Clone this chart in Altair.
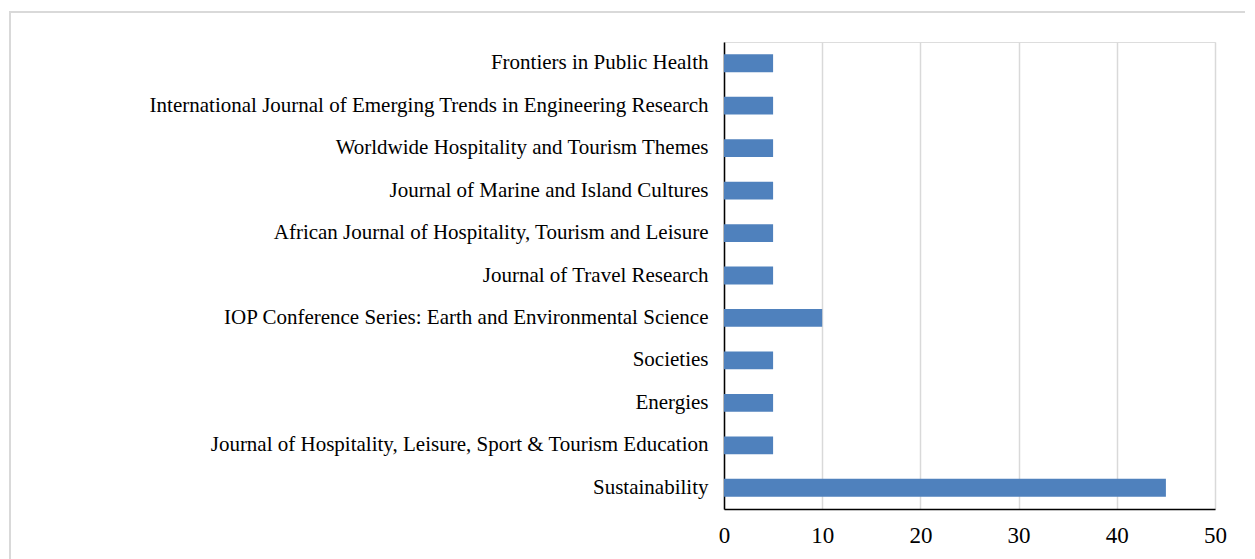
import altair as alt
import pandas as pd

journals = [
    "Frontiers in Public Health",
    "International Journal of Emerging Trends in Engineering Research",
    "Worldwide Hospitality and Tourism Themes",
    "Journal of Marine and Island Cultures",
    "African Journal of Hospitality, Tourism and Leisure",
    "Journal of Travel Research",
    "IOP Conference Series: Earth and Environmental Science",
    "Societies",
    "Energies",
    "Journal of Hospitality, Leisure, Sport & Tourism Education",
    "Sustainability",
]
counts = [5, 5, 5, 5, 5, 5, 10, 5, 5, 5, 45]
x_ticks = [0, 10, 20, 30, 40, 50]

df = pd.DataFrame({"journal": journals, "count": counts})

FONT = "Liberation Serif"
W, H = 491, 467
PL, PT = 716, 34

border = alt.Chart(df).mark_rect(
    fill=None, stroke="#D9D9D9", strokeWidth=1.5, clip=False
).encode(
    x=alt.value(10 - 8 - PL), x2=alt.value(1300 - 8 - PL),
    y=alt.value(12 - 8 - PT), y2=alt.value(600 - 8 - PT),
)

bars = alt.Chart(df).mark_bar(color="#4F81BD").encode(
    x=alt.X("count:Q",
            scale=alt.Scale(domain=[0, 50], nice=False),
            axis=alt.Axis(values=x_ticks, title=None, grid=True, gridColor="#D9D9D9",
                          gridWidth=1.5, ticks=False, domainColor="#000000",
                          domainWidth=1.5, labelFont=FONT, labelFontSize=23,
                          labelColor="#000000", labelPadding=15, labelFlush=False)),
    y=alt.Y("journal:N", sort=journals,
            scale=alt.Scale(paddingInner=0.58, paddingOuter=0.29),
            axis=alt.Axis(title=None, ticks=False, domainColor="#000000",
                          domainWidth=1.5, labelFont=FONT, labelFontSize=21,
                          labelColor="#000000", labelPadding=16, labelLimit=710)),
)

chart = alt.layer(border, bars).properties(
    width=W, height=H,
    autosize=alt.AutoSizeParams(type="none"),
    padding={"left": PL, "top": PT, "right": 30, "bottom": 50},
).configure_view(stroke=None).configure(background="#ffffff")

chart.save("out.html", embed_options={"renderer": "svg", "actions": False})
